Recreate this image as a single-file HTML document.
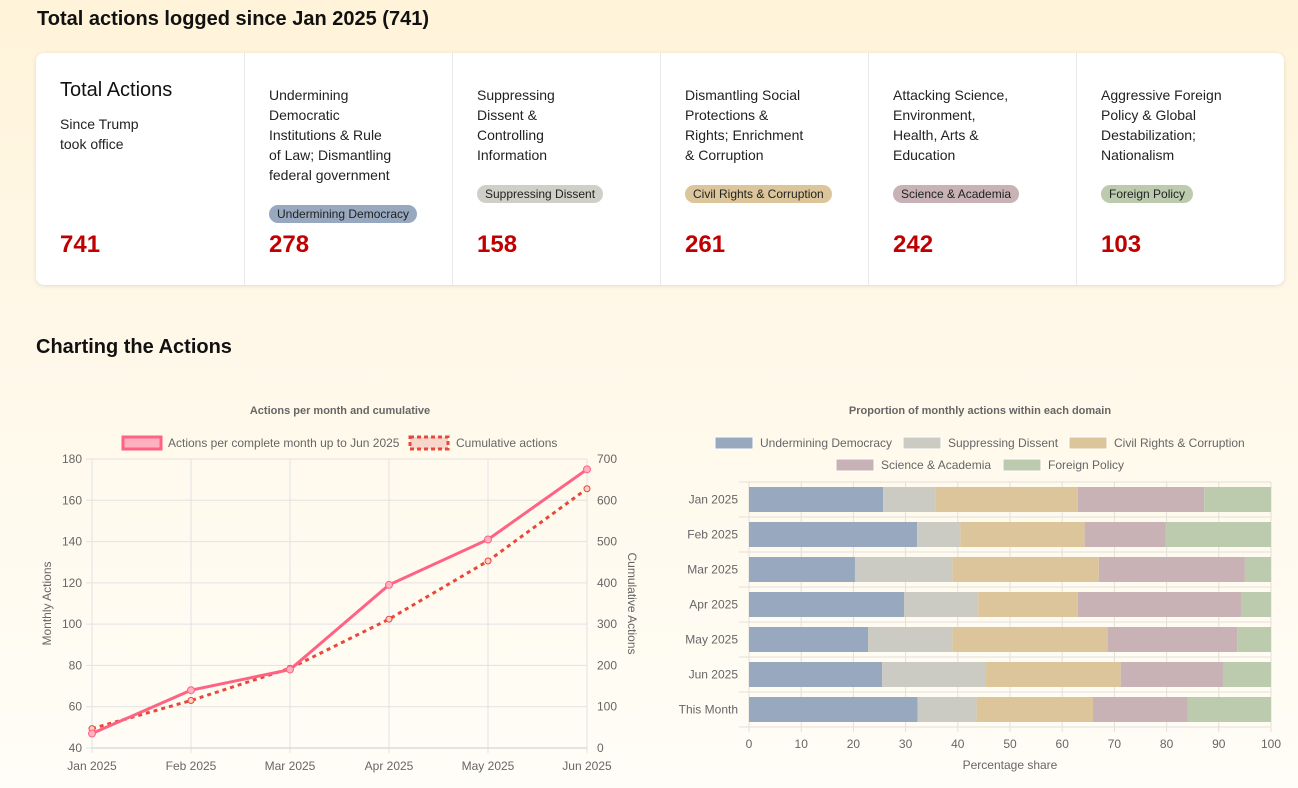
<!DOCTYPE html>
<html><head><meta charset="utf-8">
<style>
*{margin:0;padding:0;box-sizing:border-box}
body{width:1298px;height:788px;overflow:hidden;font-family:"Liberation Sans",Arial,sans-serif;background:linear-gradient(#fff3d9 0%,#fff8e8 40%,#fffdf7 100%);position:relative;color:#111}
h1{position:absolute;left:37px;top:8px;font-size:20px;font-weight:bold}
h2{position:absolute;left:36px;top:336px;font-size:20px;font-weight:bold}
.cards{position:absolute;left:36px;top:53px;width:1248px;height:232px;background:#fff;border-radius:8px;box-shadow:0 1px 4px rgba(0,0,0,.12);display:flex}
.card{width:208px;height:232px;position:relative;border-left:1px solid #e8e8e8}
.card:first-child{border-left:none}
.desc{position:absolute;left:24px;top:32px;width:124px;font-size:14px;line-height:20px;color:#222}
.big{position:absolute;left:24px;top:26px;font-size:20px;color:#111}
.sub{position:absolute;left:24px;top:61px;font-size:14px;line-height:20px;width:100px;color:#222}
.badge{position:absolute;left:24px;font-size:12px;padding:2px 8px;border-radius:9px;color:#222;white-space:nowrap}
.num{position:absolute;left:24px;top:178px;font-size:24px;font-weight:bold;color:#c00000}
svg{position:absolute;left:0;top:0}
</style></head><body>
<h1>Total actions logged since Jan 2025 (741)</h1>
<div class="cards">
 <div class="card"><div class="big">Total Actions</div><div class="sub">Since Trump took office</div><div class="num">741</div></div>
 <div class="card"><div class="desc">Undermining Democratic Institutions &amp; Rule of Law; Dismantling federal government</div><div class="badge" style="top:152px;background:#97a8bf">Undermining Democracy</div><div class="num">278</div></div>
 <div class="card"><div class="desc">Suppressing Dissent &amp; Controlling Information</div><div class="badge" style="top:132px;background:#cfcfc8">Suppressing Dissent</div><div class="num">158</div></div>
 <div class="card"><div class="desc">Dismantling Social Protections &amp; Rights; Enrichment &amp; Corruption</div><div class="badge" style="top:132px;background:#dcc59a">Civil Rights &amp; Corruption</div><div class="num">261</div></div>
 <div class="card"><div class="desc">Attacking Science, Environment, Health, Arts &amp; Education</div><div class="badge" style="top:132px;background:#c9b2b5">Science &amp; Academia</div><div class="num">242</div></div>
 <div class="card"><div class="desc">Aggressive Foreign Policy &amp; Global Destabilization; Nationalism</div><div class="badge" style="top:132px;background:#bccbae">Foreign Policy</div><div class="num">103</div></div>
</div>
<h2>Charting the Actions</h2>
<svg id="c" width="1298" height="788" font-family="Liberation Sans, Arial, sans-serif"></svg>
<script>
const months=["Jan 2025","Feb 2025","Mar 2025","Apr 2025","May 2025","Jun 2025"];
const monthly=[47,68,78,119,141,175];
const cumulative=[47,115,193,312,453,628];
const leftTicks=[40,60,80,100,120,140,160,180];
const rightTicks=[0,100,200,300,400,500,600,700];
const rows=["Jan 2025","Feb 2025","Mar 2025","Apr 2025","May 2025","Jun 2025","This Month"];
const domains=["Undermining Democracy","Suppressing Dissent","Civil Rights & Corruption","Science & Academia","Foreign Policy"];
const shareDem=[25.7,32.2,20.3,29.7,22.8,25.5,32.3];
const shareDis=[10,8.3,18.7,14.2,16.2,19.8,11.3];
const shareCiv=[27.3,23.8,28,19.1,29.7,25.9,22.3];
const shareSci=[24.2,15.5,28,31.4,24.8,19.6,18.1];
const shareFor=[12.8,20.2,5,5.6,6.5,9.2,16];
const pctTicks=[0,10,20,30,40,50,60,70,80,90,100];
const colors=["#97a8bf","#cbcbc3","#dcc59a","#c8b2b5","#bccbae"];
const S=document.getElementById('c');const NS="http://www.w3.org/2000/svg";
function mk(t,a,txt){const e=document.createElementNS(NS,t);for(const k in a)e.setAttribute(k,a[k]);if(txt!=null)e.textContent=txt;S.appendChild(e);return e;}
// line chart
const X0=92,X1=587,YT=459,YB=748;
const xL=i=>X0+i*(X1-X0)/(months.length-1);
const yL=v=>YB-(v-40)/140*(YB-YT);
const yR=v=>YB-v/700*(YB-YT);
let e=mk('text',{x:340,y:414,'text-anchor':'middle','font-size':11,'font-weight':'bold',fill:'#666'},'Actions per month and cumulative');

leftTicks.forEach(t=>{e=mk('line',{x1:X0-6,x2:X1,y1:yL(t),y2:yL(t),stroke:'#e2e2e2'});
 
 e=mk('text',{x:X0-10,y:yL(t)+4,'text-anchor':'end','font-size':12,fill:'#666'},t);
 });
rightTicks.forEach(t=>{e=mk('text',{x:X1+10,y:yR(t)+4,'font-size':12,fill:'#666'},t);
 });
months.forEach((m,i)=>{e=mk('line',{x1:xL(i),x2:xL(i),y1:YT,y2:YB+5,stroke:'#e2e2e2'});
 
 e=mk('text',{x:xL(i),y:YB+22,'text-anchor':'middle','font-size':12,fill:'#666'},m);
 });
mk('line',{x1:X0,x2:X1,y1:YB,y2:YB,stroke:'#ccc'});
e=mk('text',{x:0,y:0,transform:`translate(51,${(YT+YB)/2}) rotate(-90)`,'text-anchor':'middle','font-size':12,fill:'#666'},'Monthly Actions');

e=mk('text',{x:0,y:0,transform:`translate(628,${(YT+YB)/2}) rotate(90)`,'text-anchor':'middle','font-size':12,fill:'#666'},'Cumulative Actions');

e=mk('polyline',{points:cumulative.map((v,i)=>xL(i)+','+yR(v)).join(' '),fill:'none',stroke:'#e8483a','stroke-width':3,'stroke-dasharray':'4,4'});

cumulative.forEach((v,i)=>{e=mk('circle',{cx:xL(i),cy:yR(v),r:3,fill:'#f8d0c8',stroke:'#e8483a'});
 });
e=mk('polyline',{points:monthly.map((v,i)=>xL(i)+','+yL(v)).join(' '),fill:'none',stroke:'#ff6384','stroke-width':3});

monthly.forEach((v,i)=>{e=mk('circle',{cx:xL(i),cy:yL(v),r:3.5,fill:'#ffb1c1',stroke:'#ff6384'});
 });
e=mk('rect',{x:123,y:437,width:38,height:12,fill:'#ffb1c1',stroke:'#ff6384','stroke-width':3});

e=mk('text',{x:168,y:447,'font-size':12,fill:'#666'},'Actions per complete month up to Jun 2025');

e=mk('rect',{x:410,y:437,width:38,height:12,fill:'#f8d6cc',stroke:'#e8483a','stroke-width':3,'stroke-dasharray':'4,3'});

e=mk('text',{x:456,y:447,'font-size':12,fill:'#666'},'Cumulative actions');

// bar chart
const BX0=749,BX1=1271,BT=482,RS=35,BH=25;
const xB=v=>BX0+v/100*(BX1-BX0);
e=mk('text',{x:980,y:414,'text-anchor':'middle','font-size':11,'font-weight':'bold',fill:'#666'},'Proportion of monthly actions within each domain');

const leg=[[715,437],[903,437],[1069,437],[836,459],[1003,459]];
domains.forEach((d,k)=>{e=mk('rect',{x:leg[k][0],y:leg[k][1],width:38,height:12,fill:colors[k],stroke:'#fff'});
 
 e=mk('text',{x:leg[k][0]+45,y:leg[k][1]+10,'font-size':12,fill:'#666'},d);
 });
pctTicks.forEach(t=>{e=mk('line',{x1:xB(t),x2:xB(t),y1:BT,y2:BT+RS*rows.length+5,stroke:'#e4e0d8'});
 
 e=mk('text',{x:xB(t),y:748,'text-anchor':'middle','font-size':12,fill:'#666'},t);
 });
for(let r=0;r<=rows.length;r++){mk('line',{x1:BX0-10,x2:BX1,y1:BT+r*RS,y2:BT+r*RS,stroke:'#e4e0d8'});}
const series=[shareDem,shareDis,shareCiv,shareSci,shareFor];
rows.forEach((r,i)=>{let acc=0;const y=BT+i*RS+(RS-BH)/2;
 series.forEach((s,k)=>{e=mk('rect',{x:xB(acc),y:y,width:xB(acc+s[i])-xB(acc),height:BH,fill:colors[k]});
  acc+=s[i];});
 e=mk('text',{x:738,y:y+BH/2+4,'text-anchor':'end','font-size':12,fill:'#666'},r);
 });
e=mk('text',{x:1010,y:769,'text-anchor':'middle','font-size':12,fill:'#666'},'Percentage share');

</script>
</body></html>
